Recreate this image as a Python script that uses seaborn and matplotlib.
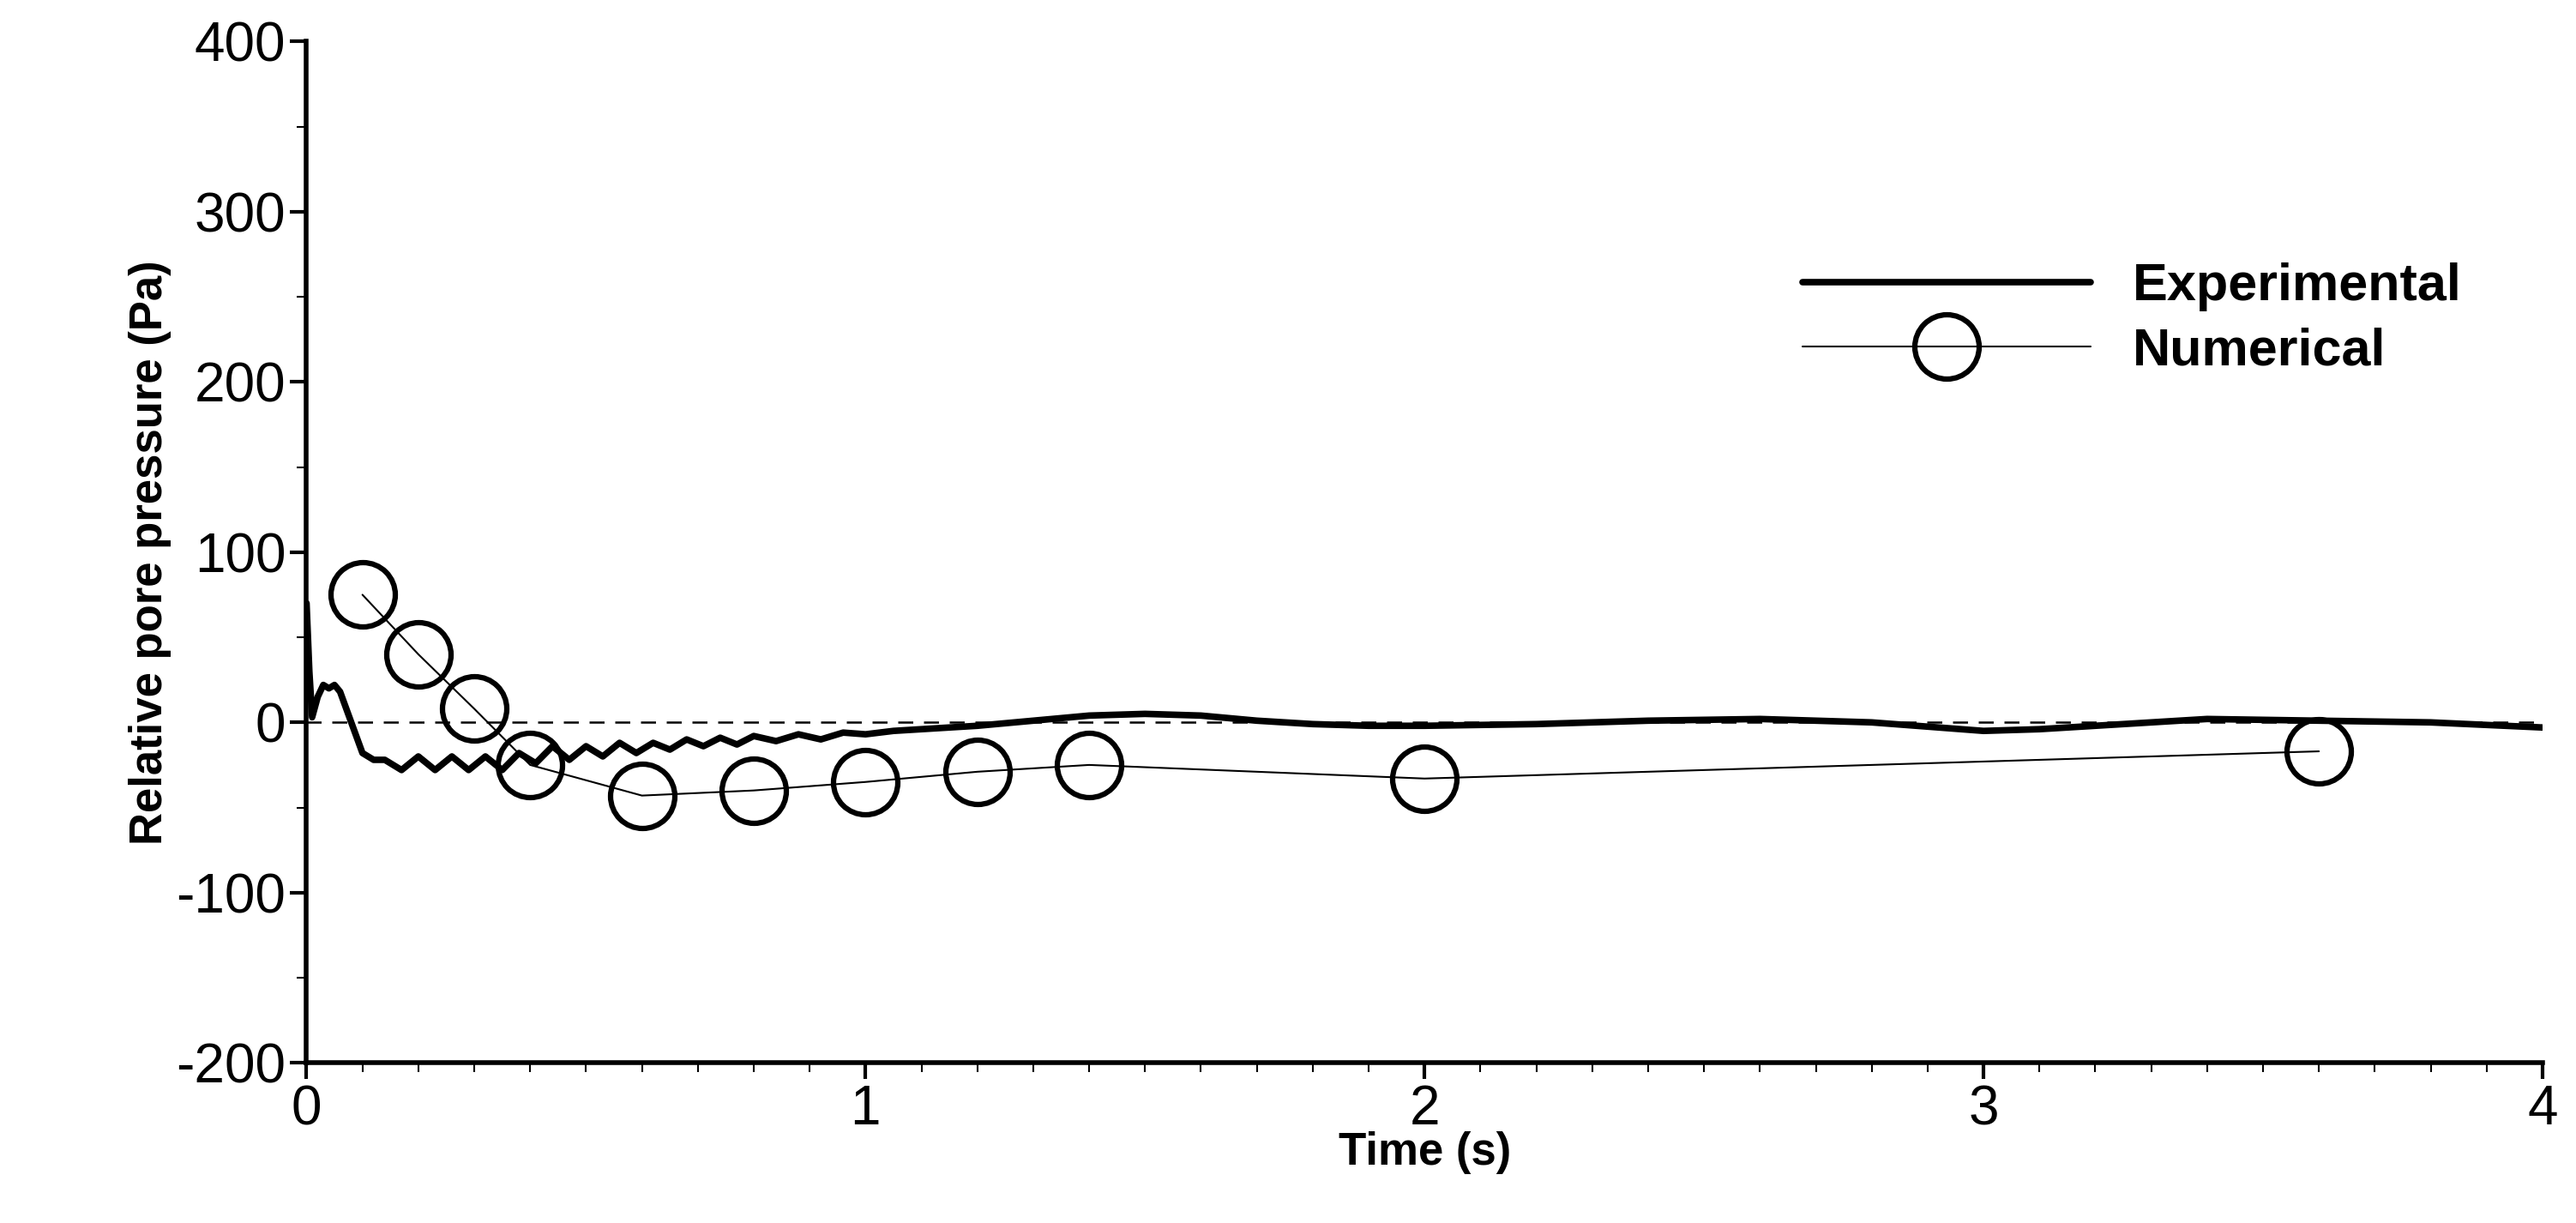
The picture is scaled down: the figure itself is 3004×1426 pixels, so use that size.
import numpy as np
import pandas as pd
import matplotlib
matplotlib.use("Agg")
import matplotlib.pyplot as plt
import seaborn as sns
from matplotlib.ticker import MultipleLocator, FuncFormatter

# Experimental record
exp_time = [0.0, 0.005, 0.01, 0.02, 0.03, 0.04, 0.05, 0.06, 0.08, 0.10, 0.12, 0.14,
            0.17, 0.20, 0.23, 0.26, 0.29, 0.32, 0.35, 0.38, 0.41, 0.44, 0.47,
            0.50, 0.53, 0.56, 0.59, 0.62, 0.65, 0.68, 0.71, 0.74, 0.77, 0.80,
            0.84, 0.88, 0.92, 0.96, 1.00, 1.05, 1.10, 1.15, 1.20, 1.30, 1.40,
            1.50, 1.60, 1.70, 1.80, 1.90, 2.00, 2.20, 2.40, 2.60, 2.80, 3.00,
            3.10, 3.20, 3.40, 3.60, 3.80, 4.00]
exp_pressure = [70, 30, 3, 15, 22, 20, 22, 18, 0, -18, -22, -22,
                -28, -20, -28, -20, -28, -20, -28, -18, -24, -14, -22,
                -14, -20, -12, -18, -12, -16, -10, -14, -9, -13, -8,
                -11, -7, -10, -6, -7, -5, -4, -3, -2, 1, 4,
                5, 4, 1, -1, -2, -2, -1, 1, 2, 0, -5,
                -4, -2, 2, 1, 0, -3]

# Numerical results
num_time = [0.1, 0.2, 0.3, 0.4, 0.6, 0.8, 1.0, 1.2, 1.4, 2.0, 3.6]
num_pressure = [75, 40, 8, -25, -43, -40, -35, -29, -25, -33, -17]

sns.set_style("ticks")
plt.rcParams['font.family'] = ['Liberation Sans', 'DejaVu Sans']
plt.rcParams['text.color'] = 'black'
plt.rcParams['xtick.color'] = 'black'
plt.rcParams['ytick.color'] = 'black'
plt.rcParams['axes.labelcolor'] = 'black'
plt.rcParams['axes.edgecolor'] = 'black'

fig = plt.figure(figsize=(30.04, 14.26), dpi=100)
ax = fig.add_axes([0.119, 0.131, 0.868, 0.835])

exp_df = pd.DataFrame({'t': exp_time, 'p': exp_pressure})
num_df = pd.DataFrame({'t': num_time, 'p': num_pressure})

ax.axhline(0, color='black', lw=1.8, ls=(0, (7, 5)), zorder=1)
sns.lineplot(data=exp_df, x='t', y='p', ax=ax, color='black', lw=5.5,
             label='Experimental', sort=False)
sns.lineplot(data=num_df, x='t', y='p', ax=ax, color='black', lw=1.5,
             marker='o', markersize=54, markerfacecolor='none',
             markeredgecolor='black', markeredgewidth=4.5, label='Numerical')

ax.set_xlim(0, 4)
ax.set_ylim(-200, 400)
ax.xaxis.set_major_locator(MultipleLocator(1))
ax.xaxis.set_minor_locator(MultipleLocator(0.1))
ax.yaxis.set_major_locator(MultipleLocator(100))
ax.yaxis.set_minor_locator(MultipleLocator(50))
ax.yaxis.set_major_formatter(FuncFormatter(lambda v, _: f"{int(v)}"))
ax.xaxis.set_major_formatter(FuncFormatter(lambda v, _: f"{int(v)}"))
ax.tick_params(which='major', length=14, width=3, labelsize=46, direction='out')
ax.tick_params(which='minor', length=8, width=1.5, direction='out')
ax.tick_params(axis='x', pad=4)
for side in ['top', 'right']:
    ax.spines[side].set_visible(False)
for side in ['left', 'bottom']:
    ax.spines[side].set_linewidth(4)

ax.set_xlabel('Time (s)', fontsize=38, fontweight='bold', labelpad=-4)
ax.set_ylabel('Relative pore pressure (Pa)', fontsize=38, fontweight='bold', labelpad=4)

leg = ax.legend(loc='upper right', bbox_to_anchor=(0.985, 0.83), frameon=False,
                handlelength=5.5, handletextpad=0.8, labelspacing=0.3,
                prop={'weight': 'bold', 'size': 44})

fig.savefig('out.png', dpi=100)
